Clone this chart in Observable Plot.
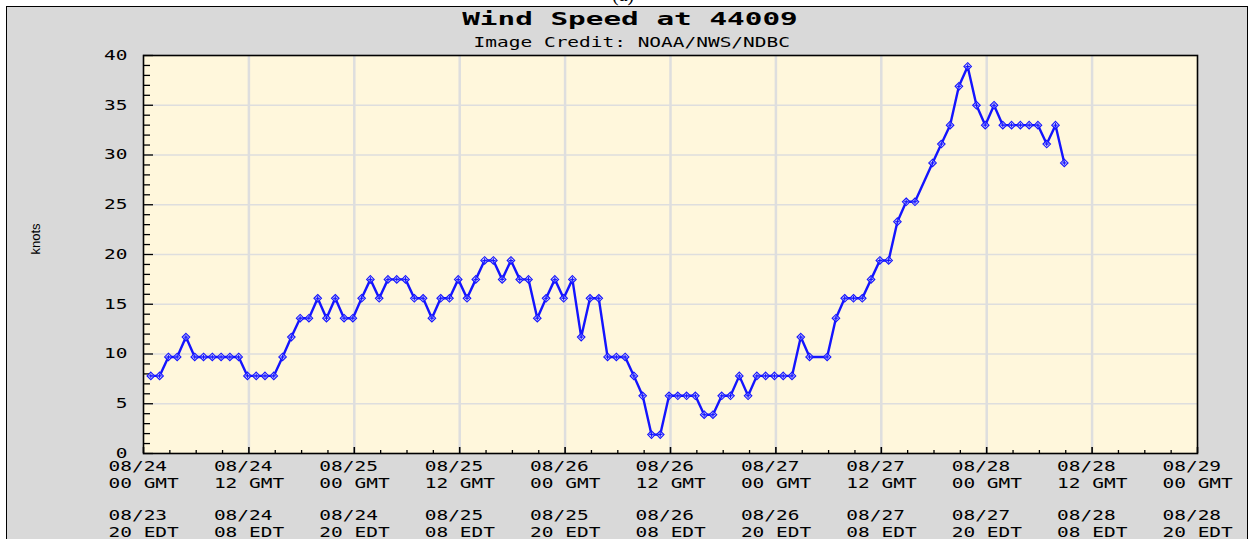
<!DOCTYPE html>
<html><head><meta charset="utf-8">
<script src="https://cdn.jsdelivr.net/npm/d3@7"></script>
<script src="https://cdn.jsdelivr.net/npm/@observablehq/plot@0.6"></script>
<style>
html,body{margin:0;padding:0;background:#fff;width:1251px;height:539px;overflow:hidden;}
#cap{position:absolute;left:0;top:0;width:1251px;height:6px;overflow:hidden;}
#cap span{position:absolute;left:612px;top:-17px;font:20px "Liberation Serif";color:#000;}
#box{position:absolute;left:6px;top:6px;width:1242px;height:545px;border:1px solid #000;background:#d9d9d9;box-sizing:border-box;}
#title{height:25px;line-height:26px;text-align:center;padding-left:6px;}
#title span{display:inline-block;transform:scaleX(1.63);font:bold 18px "DejaVu Sans Mono";color:#000;}
#sub{height:19px;line-height:20px;text-align:center;padding-left:10px;}
#sub span{display:inline-block;transform:scaleX(1.39);font:14px "DejaVu Sans Mono";color:#000;}
#chart svg{display:block;}
</style></head><body>
<div id="cap"><span>(a)</span></div>
<div id="box">
  <div id="title"><span>Wind Speed at 44009</span></div>
  <div id="sub"><span>Image Credit: NOAA/NWS/NDBC</span></div>
  <div id="chart"></div>
</div>
<script>
// Observation times (GMT, month/day hour:minute)
const obsTime = [
"08/24 00:50","08/24 01:50","08/24 02:50","08/24 03:50","08/24 04:50","08/24 05:50","08/24 06:50","08/24 07:50",
"08/24 08:50","08/24 09:50","08/24 10:50","08/24 11:50","08/24 12:50","08/24 13:50","08/24 14:50","08/24 15:50",
"08/24 16:50","08/24 17:50","08/24 18:50","08/24 19:50","08/24 20:50","08/24 21:50","08/24 22:50","08/24 23:50",
"08/25 00:50","08/25 01:50","08/25 02:50","08/25 03:50","08/25 04:50","08/25 05:50","08/25 06:50","08/25 07:50",
"08/25 08:50","08/25 09:50","08/25 10:50","08/25 11:50","08/25 12:50","08/25 13:50","08/25 14:50","08/25 15:50",
"08/25 16:50","08/25 17:50","08/25 18:50","08/25 19:50","08/25 20:50","08/25 21:50","08/25 22:50","08/25 23:50",
"08/26 00:50","08/26 01:50","08/26 02:50","08/26 03:50","08/26 04:50","08/26 05:50","08/26 06:50","08/26 07:50",
"08/26 08:50","08/26 09:50","08/26 10:50","08/26 11:50","08/26 12:50","08/26 13:50","08/26 14:50","08/26 15:50",
"08/26 16:50","08/26 17:50","08/26 18:50","08/26 19:50","08/26 20:50","08/26 21:50","08/26 22:50","08/26 23:50",
"08/27 00:50","08/27 01:50","08/27 02:50","08/27 03:50","08/27 05:50","08/27 06:50","08/27 07:50",
"08/27 08:50","08/27 09:50","08/27 10:50","08/27 11:50","08/27 12:50","08/27 13:50","08/27 14:50","08/27 15:50",
"08/27 17:50","08/27 18:50","08/27 19:50","08/27 20:50","08/27 21:50","08/27 22:50","08/27 23:50",
"08/28 00:50","08/28 01:50","08/28 02:50","08/28 03:50","08/28 04:50","08/28 05:50","08/28 06:50","08/28 07:50",
"08/28 08:50"
];
// Wind speed, knots
const windKnots = [
7.8,7.8,9.7,9.7,11.7,9.7,9.7,9.7,
9.7,9.7,9.7,7.8,7.8,7.8,7.8,9.7,
11.7,13.6,13.6,15.6,13.6,15.6,13.6,13.6,
15.6,17.5,15.6,17.5,17.5,17.5,15.6,15.6,
13.6,15.6,15.6,17.5,15.6,17.5,19.4,19.4,
17.5,19.4,17.5,17.5,13.6,15.6,17.5,15.6,
17.5,11.7,15.6,15.6,9.7,9.7,9.7,7.8,
5.8,1.9,1.9,5.8,5.8,5.8,5.8,3.9,
3.9,5.8,5.8,7.8,5.8,7.8,7.8,7.8,
7.8,7.8,11.7,9.7,9.7,13.6,15.6,
15.6,15.6,17.5,19.4,19.4,23.3,25.3,25.3,
29.2,31.1,33.0,36.9,38.9,35.0,33.0,
35.0,33.0,33.0,33.0,33.0,33.0,31.1,33.0,
29.2
];
// x-axis ticks (GMT) and their label rows
const tickStamp = ["08/24 00:00","08/24 12:00","08/25 00:00","08/25 12:00","08/26 00:00","08/26 12:00",
  "08/27 00:00","08/27 12:00","08/28 00:00","08/28 12:00","08/29 00:00"];
const gmtDates = ["08/24","08/24","08/25","08/25","08/26","08/26","08/27","08/27","08/28","08/28","08/29"];
const gmtHours = ["00 GMT","12 GMT","00 GMT","12 GMT","00 GMT","12 GMT","00 GMT","12 GMT","00 GMT","12 GMT","00 GMT"];
const edtDates = ["08/23","08/24","08/24","08/25","08/25","08/26","08/26","08/27","08/27","08/28","08/28"];
const edtHours = ["20 EDT","08 EDT","20 EDT","08 EDT","20 EDT","08 EDT","20 EDT","08 EDT","20 EDT","08 EDT","20 EDT"];
const yTicks = [0,5,10,15,20,25,30,35,40];

const parse = d3.utcParse("%Y/%m/%d %H:%M");
const data = obsTime.map((t, i) => ({t: parse("2023/" + t), v: windKnots[i]}));
const ticks = tickStamp.map(s => parse("2023/" + s));
const xDomain = [ticks[0], ticks[ticks.length - 1]];
const minorX = d3.utcHour.every(3).range(xDomain[0], xDomain[1]).filter(d => d.getUTCHours() % 12 !== 0);
const minorY = d3.range(1, 40).filter(v => v % 5 !== 0);

const W = 1240, H = 488, mL = 136, mR = 50, mT = 4, mB = 86;
const pw = W - mL - mR, ph = H - mT - mB;
const mono = "DejaVu Sans Mono";
const blue = "#1414ff";
const pxPerKnot = ph / 40;

const xLabel = (arr, dy) => Plot.text(ticks, {x: d => d, text: (d, i) => arr[i], frameAnchor: "bottom",
  dx: -35, dy, textAnchor: "start", lineAnchor: "middle", fontFamily: mono, fontSize: 14, fill: "#000"});

const chart = Plot.plot({
  width: W, height: H,
  marginLeft: mL, marginRight: mR, marginTop: mT, marginBottom: mB,
  style: "background: transparent; overflow: visible; max-width: none;",
  x: {type: "utc", domain: xDomain, axis: null},
  y: {domain: [0, 40], axis: null},
  marks: [
    Plot.frame({fill: "#fff7dc", stroke: "none"}),
    Plot.ruleY(yTicks.slice(1, -1), {stroke: "#dedede", strokeWidth: 1.5}),
    Plot.ruleX(ticks.slice(1, -1), {stroke: "#dedede", strokeWidth: 2.5}),
    // inside tick marks
    Plot.ruleY(yTicks, {x1: xDomain[0], x2: xDomain[1], insetRight: pw - 10, stroke: "#000", strokeWidth: 1.3}),
    Plot.ruleY(minorY, {x1: xDomain[0], x2: xDomain[1], insetRight: pw - 7, stroke: "#000", strokeWidth: 1.3}),
    Plot.ruleX(ticks, {y1: 0, y2: 6 / pxPerKnot, stroke: "#000", strokeWidth: 1.6}),
    Plot.ruleX(minorX, {y1: 0, y2: 3 / pxPerKnot, stroke: "#000", strokeWidth: 1.3}),
    Plot.frame({stroke: "#000", strokeWidth: 1.6}),
    // data
    Plot.line(data, {x: "t", y: "v", stroke: blue, strokeWidth: 2.4}),
    Plot.dot(data, {x: "t", y: "v", symbol: "diamond2", r: 3.4, stroke: blue, fill: "#dfe3ff", fillOpacity: 0.5, strokeWidth: 1.1}),
    Plot.dot(data, {x: "t", y: "v", symbol: "plus", r: 1.6, stroke: blue, strokeWidth: 1}),
    // y tick labels
    Plot.text(yTicks, {y: d => d, text: d => String(d), frameAnchor: "left", dx: -16, textAnchor: "end",
      fontFamily: mono, fontSize: 14, fill: "#000"}),
    // x tick labels
    xLabel(gmtDates, 13.5),
    xLabel(gmtHours, 30.5),
    xLabel(edtDates, 62.5),
    xLabel(edtHours, 79),
    // y-axis title
    Plot.text(["knots"], {frameAnchor: "left", dx: -108, rotate: -90, fontFamily: "Liberation Sans",
      fontSize: 13, fill: "#000"})
  ]
});
document.getElementById("chart").appendChild(chart);

// stretch the monospaced labels horizontally, like the original wide bitmap font
chart.querySelectorAll('g[font-family*="Mono"] text').forEach(t => {
  const len = t.getComputedTextLength();
  if (len > 0) {
    t.setAttribute("textLength", (len * 1.39).toFixed(1));
    t.setAttribute("lengthAdjust", "spacingAndGlyphs");
  }
});
</script>
</body></html>
